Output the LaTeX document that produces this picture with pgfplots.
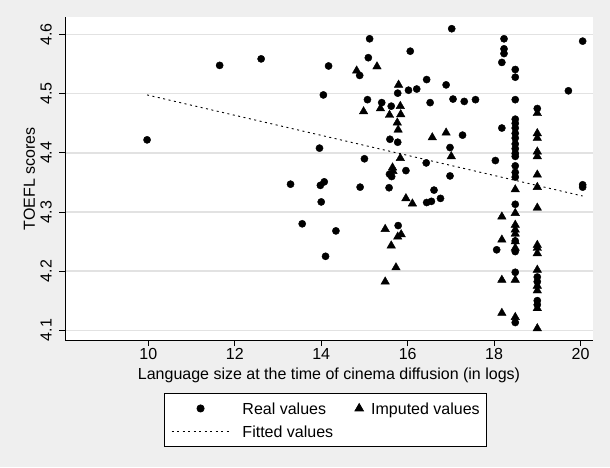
\documentclass[border=0pt]{standalone}
\usepackage{pgfplots}
\pgfplotsset{compat=1.18}
\usepackage{fontspec}
\setmainfont{Liberation Sans}

\definecolor{graphbg}{RGB}{239,239,239}
\definecolor{gridgray}{RGB}{226,226,226}

\pgfplotsset{
  circkey/.style={legend image code/.code={\path[draw=none,fill=none] (0pt,0pt) -- (58pt,0pt);
    \draw[##1] plot coordinates {(29pt,0pt)};}},
  trikey/.style={legend image code/.code={\path[draw=none,fill=none] (0pt,0pt) -- (12pt,0pt);
    \draw[##1] plot coordinates {(6pt,0pt)};}},
  linekey/.style={legend image code/.code={\draw[##1] (0pt,0pt) -- (58pt,0pt);}},
}

\begin{document}
\begin{tikzpicture}[x=1pt,y=1pt]
\fill[graphbg] (0,0) rectangle (610,467);
\begin{axis}[
  at={(65.4pt,127pt)}, anchor=south west,
  scale only axis, width=527.2pt, height=322.5pt,
  xmin=8.08, xmax=20.28, ymin=4.0834, ymax=4.629,
  axis background/.style={fill=white},
  axis x line*=bottom, axis y line*=left,
  axis line style={black, line width=0.9pt},
  xtick={10,12,14,16,18,20},
  ytick={4.1,4.2,4.3,4.4,4.5,4.6},
  yticklabels={4.1,4.2,4.3,4.4,4.5,4.6},
  tick align=outside, major tick length=6pt,
  tick style={black, line width=0.8pt},
  ymajorgrids=true,
  grid style={gridgray, line width=1.3pt},
  /pgf/number format/assume math mode=true,
  every tick label/.append style={font=\fontsize{16}{19}\selectfont},
  xticklabel style={inner sep=0pt, text height=11.5pt, text depth=0pt, anchor=north, yshift=-2pt},
  yticklabel style={rotate=90, anchor=south, inner sep=0pt, text depth=0pt},
  yticklabel shift=7.6pt,
  xlabel={Language size at the time of cinema diffusion (in logs)},
  ylabel={TOEFL scores},
  every axis x label/.style={at={(axis description cs:0.5,-0.124)}, anchor=base,
    font=\fontsize{16}{19}\selectfont},
  every axis y label/.style={at={(axis description cs:-0.0581,0.5)}, anchor=base, rotate=90,
    font=\fontsize{16}{19}\selectfont},
  legend columns=2,
  legend cell align=left,
  legend style={at={(0.1874,-0.1653)}, anchor=north west,
    draw=black, line width=0.8pt, fill=white,
    font=\fontsize{16}{19}\selectfont,
    inner xsep=6.5pt, inner ysep=5pt, row sep=3.2pt,
    nodes={inner sep=0pt, text height=16pt, text depth=3.5pt},
    /tikz/column 1/.style={column sep=12.5pt},
    /tikz/column 2/.style={column sep=20pt},
    /tikz/column 3/.style={column sep=6pt}},
]

% real values
\addplot[only marks, mark=*, mark size=3.6pt, black, circkey]
coordinates {
(9.97,4.422)(11.65,4.548)(12.61,4.559)(13.29,4.347)(13.56,4.280)
(13.96,4.408)(13.98,4.345)(14.07,4.351)(14.00,4.317)(14.05,4.498)
(14.17,4.547)(14.10,4.225)(14.34,4.268)(14.90,4.342)(14.89,4.531)
(15.00,4.390)(15.07,4.490)(15.09,4.561)(15.12,4.593)(15.40,4.485)
(15.59,4.423)(15.57,4.341)(15.62,4.479)(15.77,4.501)(15.78,4.277)
(15.77,4.418)(15.58,4.364)(15.63,4.360)(15.96,4.370)(16.02,4.506)
(16.06,4.572)(16.21,4.508)(16.43,4.383)(16.44,4.524)(16.52,4.485)
(16.44,4.316)(16.55,4.318)(16.61,4.337)(16.76,4.323)(16.89,4.515)
(16.98,4.361)(16.98,4.409)(17.02,4.610)(17.05,4.491)(17.31,4.487)
(17.27,4.430)(17.57,4.490)(18.03,4.387)(18.06,4.236)(18.18,4.553)
(18.18,4.442)(18.23,4.593)(18.23,4.576)(18.23,4.568)
(18.49,4.541)(18.49,4.528)(18.49,4.490)(18.49,4.457)(18.49,4.450)
(18.49,4.442)(18.49,4.433)(18.49,4.425)(18.49,4.415)(18.49,4.407)
(18.49,4.399)(18.49,4.394)(18.49,4.378)(18.49,4.367)(18.49,4.359)
(18.49,4.313)(18.49,4.251)(18.49,4.233)(18.49,4.198)(18.49,4.113)
(19.00,4.475)(19.00,4.190)(19.00,4.182)(19.00,4.150)(19.00,4.143)
(19.72,4.505)(20.05,4.589)(20.05,4.346)(20.05,4.342)
};
\addlegendentry{Real values}

% imputed values
\addplot[only marks, mark=triangle*, mark size=4.9pt, black, trikey]
coordinates {
(14.82,4.539)(15.29,4.546)(14.98,4.470)(15.37,4.475)(15.58,4.464)
(15.79,4.515)(15.83,4.479)(15.84,4.465)(15.76,4.451)(15.78,4.439)
(15.83,4.391)(15.65,4.375)(15.66,4.369)(16.57,4.426)(16.89,4.434)
(17.01,4.394)(15.96,4.323)(16.11,4.314)(15.48,4.271)(15.85,4.262)
(15.77,4.258)(15.62,4.243)(15.73,4.206)(15.48,4.182)
(18.18,4.292)(18.18,4.253)(18.18,4.185)(18.18,4.129)
(18.49,4.338)(18.49,4.298)(18.49,4.278)(18.49,4.270)(18.49,4.263)
(18.49,4.250)(18.49,4.239)(18.49,4.185)(18.49,4.122)
(19.00,4.467)(19.00,4.433)(19.00,4.425)(19.00,4.402)(19.00,4.394)
(19.00,4.363)(19.00,4.342)(19.00,4.307)(19.00,4.244)(19.00,4.239)
(19.00,4.230)(19.00,4.202)(19.00,4.175)(19.00,4.167)(19.00,4.137)
(19.00,4.103)
};
\addlegendentry{Imputed values}

% fitted values
\addplot[black, line width=0.9pt, dash pattern=on 2pt off 3.5pt, linekey]
coordinates {(9.97,4.498)(20.05,4.327)};
\addlegendentry{Fitted values}
\end{axis}
\end{tikzpicture}
\end{document}
